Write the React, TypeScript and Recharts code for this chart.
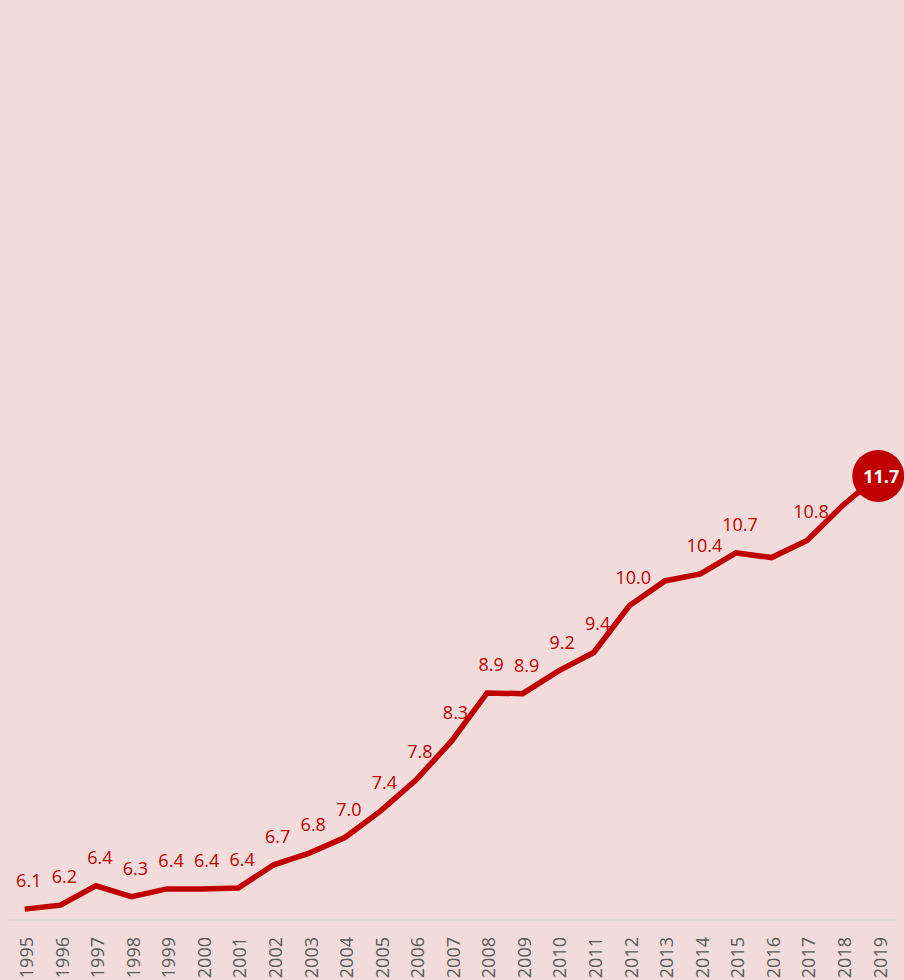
import React from "react";
import { LineChart, Line, XAxis, YAxis } from "recharts";

const years = [
  "1995", "1996", "1997", "1998", "1999", "2000", "2001", "2002", "2003", "2004",
  "2005", "2006", "2007", "2008", "2009", "2010", "2011", "2012", "2013", "2014",
  "2015", "2016", "2017", "2018", "2019",
];
const values = [
  6.1, 6.151, 6.4, 6.26, 6.36, 6.36, 6.37, 6.67, 6.82, 7.02,
  7.36, 7.76, 8.26, 8.88, 8.87, 9.16, 9.4, 10.0, 10.32, 10.41,
  10.68, 10.62, 10.84, 11.29, 11.67,
];
const labelled = [
  true, true, true, true, true, true, true, true, true, true,
  true, true, true, true, true, true, true, true, false, true,
  true, false, true, false, false,
];
const yDomain = [5.96, 17.79];

const data = years.map((year, i) => ({ year, value: values[i] }));

const RED = "#c00000";
const FONT = "'Open Sans', sans-serif";

const ValueLabel = (props: any) => {
  const { x, y, value, index } = props;
  if (!labelled[index]) return null;
  return (
    <text
      x={x + 4}
      y={y - 29}
      textAnchor="middle"
      dominantBaseline="central"
      fill={RED}
      fontFamily={FONT}
      fontSize={18}
    >
      {Number(value).toFixed(1)}
    </text>
  );
};

const LastDot = (props: any) => {
  const { cx, cy, index, value } = props;
  if (index !== values.length - 1) return <g key={`d${index}`} />;
  const v = Array.isArray(value) ? value[1] : value;
  return (
    <g key={`d${index}`}>
      <circle cx={cx} cy={cy} r={26} fill={RED} />
      <text
        x={cx + 3}
        y={cy}
        textAnchor="middle"
        dominantBaseline="central"
        fill="#ffffff"
        fontFamily={FONT}
        fontWeight="bold"
        fontSize={18}
      >
        {Number(v).toFixed(1)}
      </text>
    </g>
  );
};

const YearTick = (props: any) => {
  const { x, y, payload } = props;
  return (
    <text
      transform={`translate(${x + 2},${y + 9}) rotate(-90)`}
      textAnchor="end"
      dy="0.35em"
      fill="#595959"
      fontFamily={FONT}
      fontSize={18}
    >
      {payload.value}
    </text>
  );
};

export default function App() {
  return (
    <div style={{ position: "absolute", left: 0, top: 0, width: 904, height: 980, background: "#f2dcdb" }}>
      <LineChart
        width={904}
        height={980}
        data={data}
        margin={{ top: 0, right: 8, bottom: 0, left: 7 }}
      >
        <XAxis
          dataKey="year"
          scale="band"
          height={60}
          interval={0}
          tickLine={false}
          axisLine={{ stroke: "#d9d9d9", strokeWidth: 1.5 }}
          tick={<YearTick />}
        />
        <YAxis hide domain={yDomain} allowDataOverflow type="number" />
        <Line
          dataKey="value"
          stroke={RED}
          strokeWidth={5.5}
          isAnimationActive={false}
          dot={<LastDot />}
          activeDot={false}
          label={<ValueLabel />}
        />
      </LineChart>
    </div>
  );
}
